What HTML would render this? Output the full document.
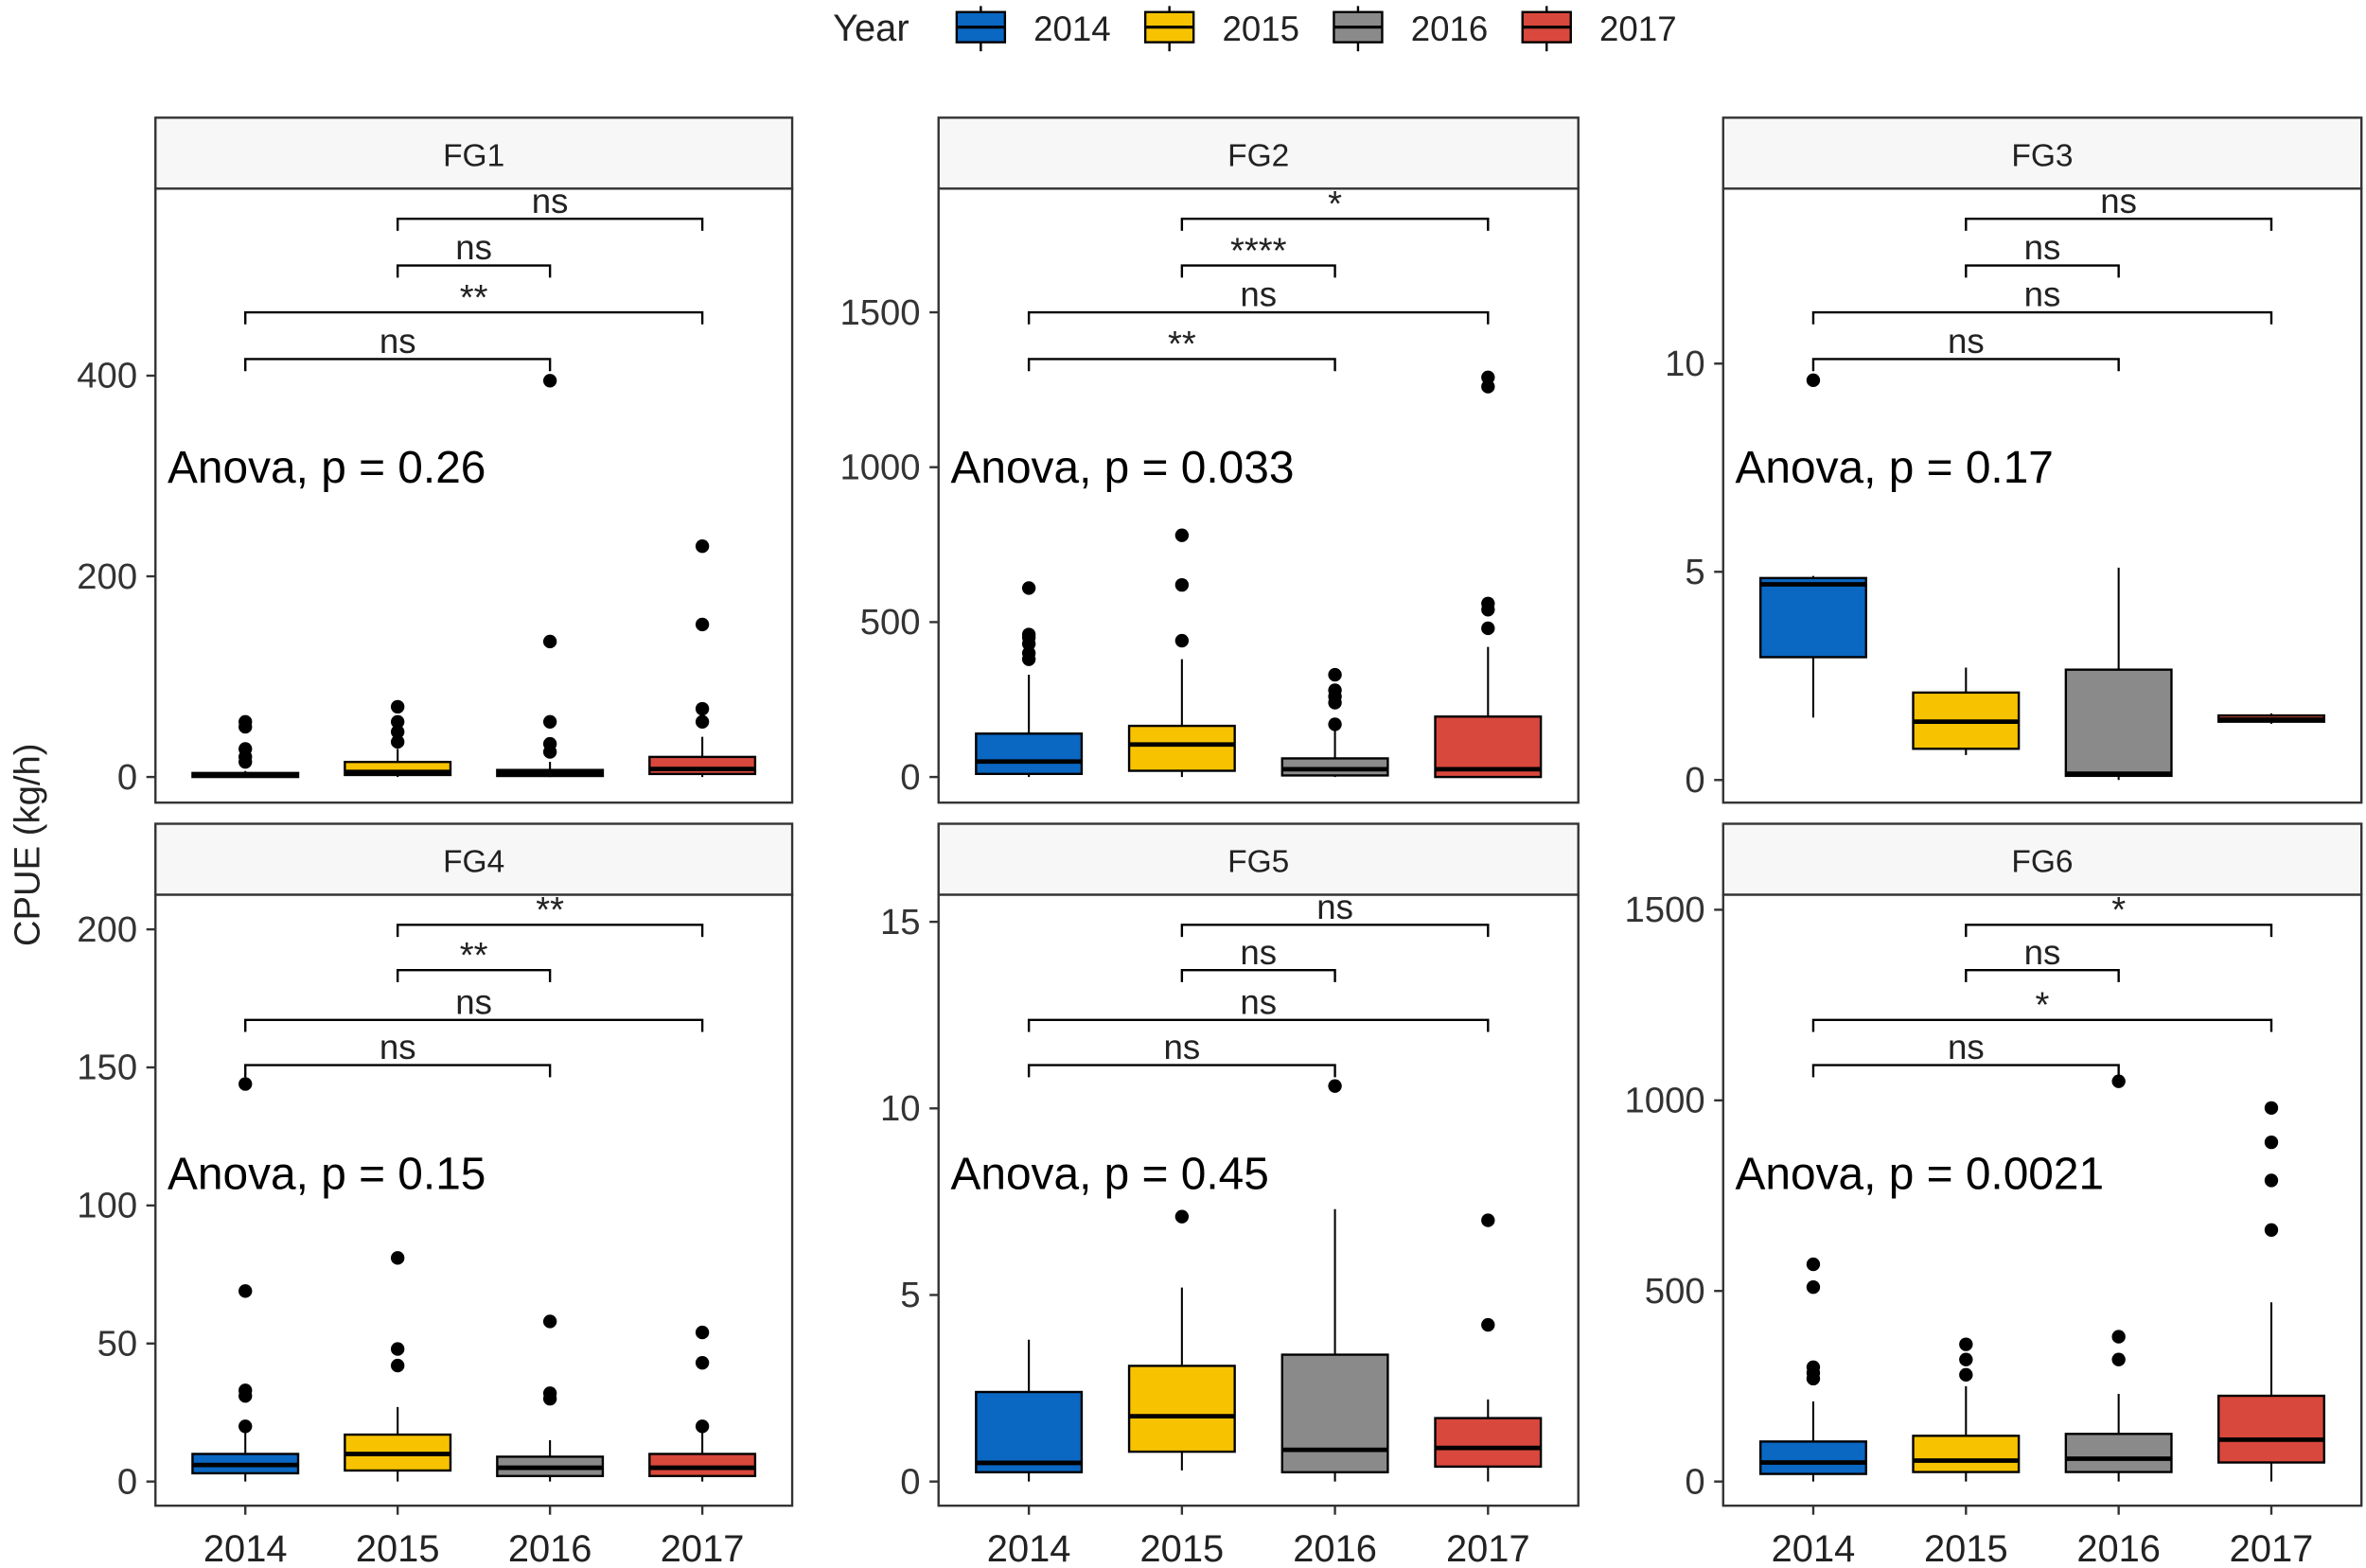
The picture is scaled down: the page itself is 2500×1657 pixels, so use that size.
<!DOCTYPE html>
<html><head><meta charset="utf-8"><style>
html,body{margin:0;padding:0;background:#fff;}
svg{display:block;font-family:"Liberation Sans",sans-serif;}
</style></head><body>
<svg id="chart" width="2500" height="1657" viewBox="0 0 1568 1039.3" xmlns="http://www.w3.org/2000/svg">
<g id="legend"></g>
<text transform="translate(26,560) rotate(-90)" text-anchor="middle" font-size="24" fill="#222">CPUE (kg/h)</text>
<g id="panels"></g>
</svg>
<script>
const years = ["2014","2015","2016","2017"];
const colors = ["#0a67c2","#f7c300","#8a8a8a","#d9483c"];
const panelNames = ["FG1","FG2","FG3","FG4","FG5","FG6"];
const anovaLabels = ["Anova, p = 0.26","Anova, p = 0.033","Anova, p = 0.17","Anova, p = 0.15","Anova, p = 0.45","Anova, p = 0.0021"];
const yTicks = [[0,200,400],[0,500,1000,1500],[0,5,10],[0,50,100,150,200],[0,5,10,15],[0,500,1000,1500]];
const yDomains = [[0,400],[0,1500],[0,10],[0,200],[0,15],[0,1500]];
// boxes: [whiskerLow, q1, median, q3, whiskerHigh]
const boxesFG1 = [[0,0,2,4,6],[0,2,5,15,28],[0,1,4,7,15],[0,3,8,20,40]];
const boxesFG2 = [[0,10,50,140,330],[0,20,105,165,380],[0,5,25,60,150],[0,0,25,195,420]];
const boxesFG3 = [[1.5,2.95,4.7,4.85,4.9],[0.6,0.75,1.4,2.1,2.7],[0,0.1,0.15,2.65,5.1],[1.35,1.4,1.45,1.55,1.6]];
const boxesFG4 = [[0,3,6,10,18],[0,4,10,17,27],[0,2,5,9,15],[0,2,5,10,18]];
const boxesFG5 = [[0,0.25,0.5,2.4,3.8],[0.3,0.8,1.75,3.1,5.2],[0,0.25,0.85,3.4,7.3],[0,0.4,0.9,1.7,2.2]];
const boxesFG6 = [[0,20,50,105,210],[0,25,55,120,250],[0,25,60,125,230],[0,50,110,225,470]];
const outliersFG1 = [[15,20,28,50,55],[35,45,55,70],[25,33,55,135,395],[55,68,152,230]];
const outliersFG2 = [[380,400,430,450,460,610],[440,620,780],[170,240,260,280,330],[480,540,560,1260,1290]];
const outliersFG3 = [[9.6],[],[],[]];
const outliersFG4 = [[20,31,33,69,144],[42,48,81],[30,32,58],[20,43,54]];
const outliersFG5 = [[],[7.1],[10.6],[4.2,7.0]];
const outliersFG6 = [[270,285,300,510,570],[280,320,360],[320,380,1050],[660,790,890,980]];
// comparison labels order: 1-3, 1-4, 2-3, 2-4
const sigFG1 = ["ns","**","ns","ns"];
const sigFG2 = ["**","ns","****","*"];
const sigFG3 = ["ns","ns","ns","ns"];
const sigFG4 = ["ns","ns","**","**"];
const sigFG5 = ["ns","ns","ns","ns"];
const sigFG6 = ["ns","*","ns","*"];
const comparisons = [[0,2],[0,3],[1,2],[1,3]];

const allBoxes=[boxesFG1,boxesFG2,boxesFG3,boxesFG4,boxesFG5,boxesFG6];
const allOut=[outliersFG1,outliersFG2,outliersFG3,outliersFG4,outliersFG5,outliersFG6];
const allSig=[sigFG1,sigFG2,sigFG3,sigFG4,sigFG5,sigFG6];
const NS="http://www.w3.org/2000/svg";
function mk(tag,attrs,parent,text){const e=document.createElementNS(NS,tag);for(const k in attrs)e.setAttribute(k,attrs[k]);if(text!==undefined)e.textContent=text;parent.appendChild(e);return e;}

const lg=document.getElementById('legend');
mk('text',{x:552,y:27,'font-size':25,fill:'#222'},lg,'Year');
const legX=[634,759,884,1009];
years.forEach((y,i)=>{
  const g=mk('g',{},lg);
  
  
  mk('line',{x1:legX[i]+16,x2:legX[i]+16,y1:4,y2:34,stroke:'#000','stroke-width':1.5},g);
  mk('rect',{x:legX[i],y:8,width:32,height:20,fill:colors[i],stroke:'#000','stroke-width':1.5},g);
  mk('line',{x1:legX[i],x2:legX[i]+32,y1:18,y2:18,stroke:'#000','stroke-width':2},g);
  mk('text',{x:legX[i]+51,y:27,'font-size':23,fill:'#222'},g,y);
});

const colX=[103,622,1142], colW=[422,424,423];
const rows=[{st:78,top:125,bot:532,y0:515},{st:546,top:593,bot:998,y0:982}];
const topPixAll=[[249,207,241],[616,611,603]];
const brRow=[[238,207,176,145],[706,676,643,613]];
const panelsG=document.getElementById('panels');
for(let p=0;p<6;p++){
  const r=Math.floor(p/3),c=p%3;
  const R=rows[r], x0=colX[c], w=colW[c];
  const dom=yDomains[p];
  const topPix=topPixAll[r][c];
  const y0=(r===0&&c===2)?517:R.y0;
  const yScale=v=>y0+(topPix-y0)*(v-dom[0])/(dom[1]-dom[0]);
  const step=w/4.18, xScale=i=>x0+step*(0.59+i);
  const bw=70;
  const g=mk('g',{},panelsG);
  
  
  const clipId='clip'+p;
  const cp=mk('clipPath',{id:clipId},g);
  mk('rect',{x:x0,y:R.top,width:w,height:R.bot-R.top},cp);
  const plot=mk('g',{'clip-path':'url(#'+clipId+')'},g);
  yTicks[p].forEach(t=>{
    const y=yScale(t);
    mk('line',{x1:x0-6,x2:x0,y1:y,y2:y,stroke:'#333','stroke-width':1.5},g);
    const tl=mk('text',{x:x0-12,y:y+8,'text-anchor':'end','font-size':24,fill:'#333'},g,String(t));
    
    
  });
  if(r===1){
    years.forEach((yr,i)=>{
      const x=xScale(i);
      mk('line',{x1:x,x2:x,y1:R.bot,y2:R.bot+6,stroke:'#333','stroke-width':1.5},g);
      const tl=mk('text',{x:x,y:R.bot+37,'text-anchor':'middle','font-size':25,fill:'#222'},g,yr);
      
      
    });
  }
  allBoxes[p].forEach((b,i)=>{
    const x=xScale(i);
    const bg=mk('g',{},plot);
    
    
    mk('line',{x1:x,x2:x,y1:yScale(b[0]),y2:yScale(b[4]),stroke:'#000','stroke-width':1.3},bg);
    const yq3=yScale(b[3]), yq1=yScale(b[1]);
    mk('rect',{x:x-bw/2,y:yq3,width:bw,height:Math.max(yq1-yq3,1),fill:colors[i],stroke:'#000','stroke-width':1.5},bg);
    mk('line',{x1:x-bw/2,x2:x+bw/2,y1:yScale(b[2]),y2:yScale(b[2]),stroke:'#000','stroke-width':3},bg);
    allOut[p][i].forEach(o=>{
      const pt=mk('circle',{cx:x,cy:yScale(o),r:4.5,fill:'#000'},bg);
      
      
    });
  });
  comparisons.forEach((cmp,k)=>{
    const by=brRow[r][k];
    const xa=xScale(cmp[0]), xb=xScale(cmp[1]);
    const bk=mk('g',{},plot);
    
    
    mk('path',{d:`M${xa},${by+8}V${by}H${xb}V${by+8}`,fill:'none',stroke:'#000','stroke-width':1.5},bk);
    const lab=allSig[p][k];
    const isStar=lab.indexOf('*')===0;
    mk('text',{x:(xa+xb)/2,y:isStar?by-2:by-4,'text-anchor':'middle','font-size':isStar?24:23,fill:'#222'},bk,lab);
  });
  const an=mk('text',{x:x0+8,y:(r===0?320:788),'font-size':30,fill:'#000'},plot,anovaLabels[p]);
  
  
  mk('rect',{x:x0,y:R.top,width:w,height:R.bot-R.top,fill:'none',stroke:'#333','stroke-width':1.5},g);
  const st=mk('rect',{x:x0,y:R.st,width:w,height:R.top-R.st,fill:'#f7f7f7',stroke:'#333','stroke-width':1.5},g);
  
  
  const stt=mk('text',{x:x0+w/2,y:R.st+32,'text-anchor':'middle','font-size':21,fill:'#222'},g,panelNames[p]);
  
  
}
</script>
</body></html>
